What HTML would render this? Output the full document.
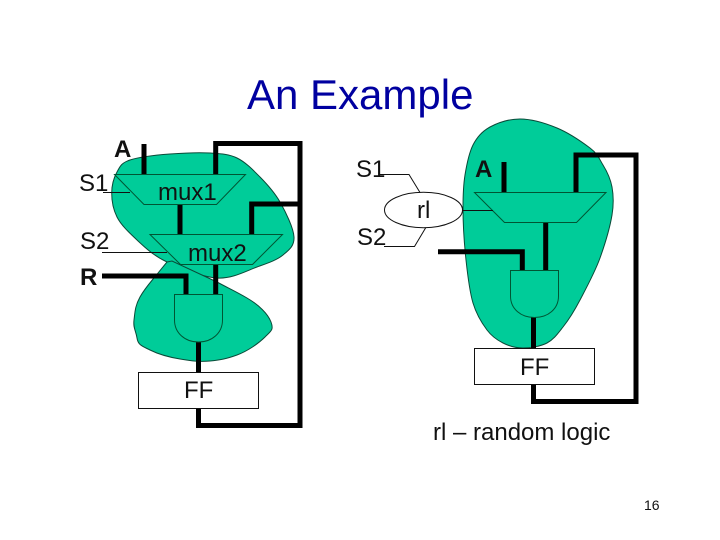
<!DOCTYPE html>
<html>
<head>
<meta charset="utf-8">
<style>
html,body{margin:0;padding:0;background:#fff;}
svg{display:block;}
text{font-family:"Liberation Sans",sans-serif;font-size:24px;fill:#111;}
.w{fill:none;stroke:#000;stroke-width:5;stroke-linejoin:miter;}
.t{fill:none;stroke:#053;stroke-width:1;}
.l{fill:none;stroke:#111;stroke-width:1;}
.blob{fill:#00cc99;stroke:#0a4a38;stroke-width:1;}
.b{font-weight:bold;}
</style>
</head>
<body>
<svg width="720" height="540" viewBox="0 0 720 540" xmlns="http://www.w3.org/2000/svg">
<rect width="720" height="540" fill="#fff"/>
<text x="247" y="109" style="font-size:42px;fill:#0000a0">An Example</text>

<!-- left blobs -->
<path class="blob" d="M130 160 C139 157 156.7 155 170 154 S199 152.3 210 153 S228.7 154 237 158 S252.8 169.7 260 177 S274.3 192 280 202 S293.5 228 294 237 S289 250 283 255 S268 263 257 267 S232 279 217 278 S180 268 167 262 S145 247.5 137 240 S121 225 117 217 S111.7 200.5 111.7 193 S114 177.5 117 172 S121 163 130 160 Z"/>
<path class="blob" d="M167 262 L172 261 L217 282 C228 288 235 291 247 298 S268 314 271 322 S271 331 265 337 S248 351 237 355 S220 360 210 361 S192 361 180 359 S158 354 150 350 S138 345 137 338 S133 328 134 320 S135 306 140 297 S150 283 158 273 Z"/>

<!-- left wires -->
<path class="w" d="M144 144 V174"/>
<path class="w" d="M215.7 174 V143.5 H300 V425.5 H198.5 V408"/>
<path class="w" d="M180 204 V234"/>
<path class="w" d="M300 204 H251.7 V234"/>
<path class="w" d="M102 276 H186 V294"/>
<path class="w" d="M215.7 264 V294"/>
<path class="w" d="M198.5 342 V372"/>

<!-- left shapes -->
<path class="t" d="M114.5 174.5 H245.5 L216.5 204.5 H144 Z"/>
<path class="t" d="M150 234.5 H282.5 L252.5 264.5 H180.5 Z"/>
<path class="t" d="M174.5 294.5 H222.5 V320 C222.5 333 212 342 198.5 342 S174.5 333 174.5 320 Z"/>
<rect x="138.5" y="372.5" width="120" height="36" fill="#fff" stroke="#111"/>
<path class="l" d="M103 192.5 H130"/>
<path class="l" d="M102 252.5 H167"/>

<text x="79" y="191">S1</text>
<text class="b" x="114" y="157">A</text>
<text x="80" y="249">S2</text>
<text class="b" x="80" y="285">R</text>
<text x="158" y="200">mux1</text>
<text x="188" y="261">mux2</text>
<text x="184" y="398">FF</text>

<!-- right blob -->
<path class="blob" d="M520 119 C531 119 545 123 557 128 S582 142 590 148 S599 158.5 603 165 S610.5 178.7 612 187 S614 203 612 215 S605 244 600 258 S586 288.5 580 300 S568.5 320 563 327 S553.7 339.5 547 343 S530 348 523 348 S509 346 503 343 S492 336.7 487 330 S476.5 314.7 473 303 S467.7 275.8 466 260 S463 222 463 208 S463.3 185.5 465 175 S469 153 473 145 S482 131.3 490 127 S509 119 520 119 Z"/>

<!-- right wires -->
<path class="w" d="M504 162 V192"/>
<path class="w" d="M576 192 V155 H636 V401.5 H533.5 V384"/>
<path class="w" d="M545.7 222 V270"/>
<path class="w" d="M438 251.7 H522.3 V270"/>
<path class="w" d="M533.5 317 V348"/>

<!-- right shapes -->
<path class="t" d="M474.5 192.5 H606 L576.5 222.5 H504.5 Z"/>
<path class="t" d="M510.5 270.5 H558.5 V296 C558.5 309 548 317.5 534.5 317.5 S510.5 309 510.5 296 Z"/>
<rect x="474.5" y="348.5" width="120" height="36" fill="#fff" stroke="#111"/>
<ellipse cx="423.5" cy="210" rx="39" ry="17.7" fill="#fff" stroke="#111"/>
<path class="l" d="M380 174.5 H409 L420 192.5"/>
<path class="l" d="M384 246.5 H414.5 L425.7 227.7"/>
<path class="l" d="M462.5 210.5 H493"/>

<text x="356" y="177">S1</text>
<text class="b" x="475" y="177">A</text>
<text x="417" y="218">rl</text>
<text x="357" y="245">S2</text>
<text x="520" y="375">FF</text>
<text x="433" y="440">rl – random logic</text>
<text x="644" y="510" style="font-size:14px">16</text>
</svg>
</body>
</html>
